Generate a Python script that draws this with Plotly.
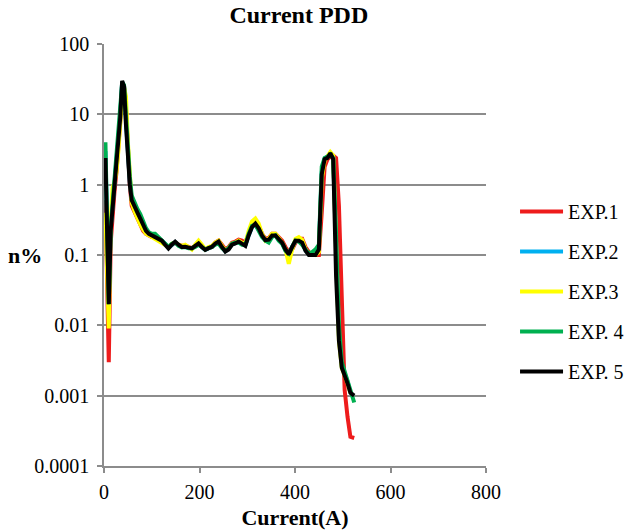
import plotly.graph_objects as go

current_a = [3, 10, 14, 18, 22, 26, 30, 34, 38, 42,
             46, 50, 54, 58, 64, 70, 76, 82, 88, 94,
             100, 107, 114, 121, 128, 135, 142, 149, 156, 163,
             170, 177, 184, 191, 198, 205, 212, 219, 226, 233,
             240, 247, 254, 261, 268, 275, 282, 289, 296, 303,
             310, 317, 324, 331, 338, 345, 352, 359, 366, 373,
             380, 387, 394, 401, 408, 415, 422, 429, 436, 443,
             450, 456, 462, 468, 474, 480, 486, 492, 498, 504,
             510, 516, 524]

exp1 = [0.6, 0.003, 0.15, 0.4, 0.8, 1.5, 3, 8, 22, 25,
        12, 3, 1.0, 0.5, 0.4, 0.33, 0.27, 0.22, 0.2, 0.19,
        0.18, 0.18, 0.165, 0.15, 0.14, 0.13, 0.14, 0.15, 0.14, 0.135,
        0.135, 0.13, 0.125, 0.135, 0.15, 0.135, 0.12, 0.125, 0.13, 0.15,
        0.16, 0.14, 0.12, 0.13, 0.15, 0.155, 0.165, 0.16, 0.15, 0.2,
        0.26, 0.29, 0.26, 0.2, 0.17, 0.175, 0.2, 0.2, 0.18, 0.16,
        0.13, 0.11, 0.12, 0.15, 0.17, 0.17, 0.13, 0.11, 0.1, 0.1,
        0.1, 0.4, 1.8, 2.3, 2.5, 2.6, 2.4, 0.5, 0.02, 0.0012,
        0.0005, 0.00026, 0.00025]

exp2 = [3.0, 0.02, 0.24, 0.5, 0.9, 1.8, 4, 10, 29, 25,
        8, 2.5, 1.1, 0.62, 0.5, 0.42, 0.35, 0.28, 0.23, 0.2,
        0.19, 0.19, 0.172, 0.16, 0.145, 0.126, 0.14, 0.152, 0.138, 0.13,
        0.13, 0.127, 0.124, 0.134, 0.145, 0.13, 0.118, 0.125, 0.13, 0.143,
        0.152, 0.13, 0.113, 0.122, 0.142, 0.148, 0.153, 0.143, 0.137, 0.19,
        0.25, 0.275, 0.235, 0.19, 0.162, 0.16, 0.185, 0.19, 0.163, 0.148,
        0.118, 0.103, 0.13, 0.158, 0.158, 0.148, 0.117, 0.102, 0.102, 0.105,
        0.13, 1.5, 2.3, 2.5, 2.8, 2.4, 0.1, 0.007, 0.0026, 0.002,
        0.0016, 0.0011, None]

exp3 = [0.4, 0.009, 0.3, 0.9, 1.1, 1.5, 3, 7, 18, 24,
        18, 4, 1.2, 0.55, 0.42, 0.33, 0.27, 0.23, 0.2, 0.19,
        0.18, 0.17, 0.16, 0.15, 0.14, 0.13, 0.145, 0.15, 0.14, 0.135,
        0.14, 0.13, 0.12, 0.14, 0.16, 0.14, 0.12, 0.13, 0.135, 0.15,
        0.16, 0.135, 0.115, 0.125, 0.145, 0.15, 0.16, 0.15, 0.145, 0.22,
        0.3, 0.33, 0.28, 0.2, 0.16, 0.17, 0.2, 0.2, 0.17, 0.15,
        0.12, 0.075, 0.12, 0.17, 0.18, 0.165, 0.12, 0.105, 0.105, 0.1,
        0.11, 1.2, 2.2, 2.6, 2.9, 2.6, 0.12, 0.006, 0.0025, 0.002,
        0.0015, 0.0011, None]

exp4 = [4.0, 0.02, 0.25, 0.55, 1.0, 2.0, 4.5, 12, 28, 26,
        9, 3, 1.3, 0.7, 0.55, 0.45, 0.38, 0.3, 0.24, 0.21,
        0.2, 0.2, 0.18, 0.165, 0.15, 0.13, 0.145, 0.15, 0.135, 0.128,
        0.13, 0.125, 0.125, 0.13, 0.14, 0.13, 0.12, 0.125, 0.13, 0.14,
        0.145, 0.125, 0.115, 0.125, 0.145, 0.15, 0.15, 0.14, 0.14, 0.2,
        0.26, 0.27, 0.22, 0.18, 0.16, 0.15, 0.18, 0.19, 0.16, 0.145,
        0.115, 0.105, 0.13, 0.16, 0.155, 0.14, 0.12, 0.105, 0.11, 0.12,
        0.14, 1.8, 2.4, 2.5, 2.7, 2.4, 0.2, 0.01, 0.003, 0.0022,
        0.0017, 0.0012, 0.0008]

exp5 = [2.4, 0.02, 0.22, 0.45, 0.8, 1.6, 3.5, 9, 30, 25,
        7, 2.2, 1.0, 0.6, 0.47, 0.4, 0.33, 0.27, 0.22, 0.2,
        0.19, 0.185, 0.17, 0.16, 0.14, 0.124, 0.14, 0.155, 0.14, 0.13,
        0.131, 0.128, 0.124, 0.135, 0.146, 0.13, 0.118, 0.125, 0.131, 0.145,
        0.155, 0.13, 0.112, 0.12, 0.14, 0.146, 0.155, 0.145, 0.135, 0.19,
        0.25, 0.28, 0.24, 0.19, 0.163, 0.165, 0.19, 0.19, 0.165, 0.15,
        0.12, 0.102, 0.13, 0.16, 0.16, 0.15, 0.115, 0.1, 0.1, 0.1,
        0.12, 1.4, 2.3, 2.4, 2.8, 2.3, 0.05, 0.006, 0.0025, 0.002,
        0.0015, 0.0011, 0.001]

series_names = ["EXP.1", "EXP.2", "EXP.3", "EXP. 4", "EXP. 5"]
series_values = [exp1, exp2, exp3, exp4, exp5]
series_colors = ["#EE1C1C", "#00B0F0", "#FFFF00", "#00B050", "#000000"]

y_tick_vals = [0.0001, 0.001, 0.01, 0.1, 1, 10, 100]
y_tick_text = ["0.0001", "0.001", "0.01", "0.1", "1", "10", "100"]
x_tick_vals = [0, 200, 400, 600, 800]

SERIF = "Liberation Serif"
GRID = "#8C8C8C"
TICKFONT = dict(family=SERIF, size=20, color="black")

fig = go.Figure()
for name, vals, col in zip(series_names, series_values, series_colors):
    fig.add_trace(go.Scatter(
        x=current_a, y=vals, name=name, mode="lines",
        line=dict(color=col, width=4), legendgroup=name,
    ))

fig.update_layout(
    width=629, height=532,
    margin=dict(l=104, r=143, t=44, b=66, autoexpand=False),
    paper_bgcolor="white", plot_bgcolor="white",
    font=dict(family=SERIF, size=20, color="black"),
    title=dict(text="<b>Current PDD</b>", x=0.51, xref="paper",
               y=0.972, yref="container", yanchor="middle",
               font=dict(family=SERIF, size=24, color="black")),
    showlegend=True,
    legend=dict(x=1.076, y=0.6493, xanchor="left", yanchor="top",
                font=dict(family=SERIF, size=20, color="black"),
                tracegroupgap=11, itemwidth=43, bgcolor="rgba(0,0,0,0)"),
    xaxis=dict(range=[0, 800], tickvals=x_tick_vals, showgrid=False,
               showline=True, linecolor=GRID, linewidth=1.5,
               ticks="outside", ticklen=5, tickcolor=GRID, tickwidth=1.5,
               zeroline=False, tickfont=TICKFONT, ticklabelstandoff=2,
               title=dict(text="<b>Current(A)</b>", standoff=8,
                          font=dict(family=SERIF, size=22, color="black"))),
    yaxis=dict(type="log", range=[-4, 2], tickvals=y_tick_vals,
               ticktext=y_tick_text, showgrid=True, gridcolor=GRID,
               gridwidth=1.5, showline=True, linecolor=GRID, linewidth=1.5,
               ticks="outside", ticklen=5, tickcolor=GRID, tickwidth=1.5,
               zeroline=False, tickfont=TICKFONT, ticklabelstandoff=4),
    annotations=[dict(text="<b>n%</b>", xref="paper", yref="paper",
                      x=-0.2055, y=0.5, xanchor="center", yanchor="middle",
                      showarrow=False,
                      font=dict(family=SERIF, size=22, color="black"))],
)

# remove the browser's default 8px body margin so the figure fills the window
fig.write_html("out.html",
               config={"displayModeBar": False},
               post_script="document.body.style.margin='0';")
